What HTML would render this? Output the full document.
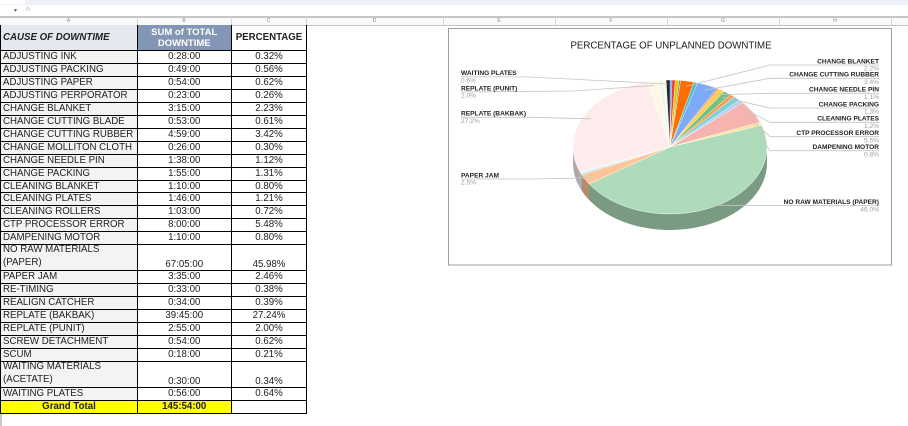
<!DOCTYPE html>
<html><head><meta charset="utf-8"><style>
body{margin:0;width:908px;height:426px;position:relative;overflow:hidden;background:#fff;font-family:"Liberation Sans",Arial,sans-serif;}
.abs{position:absolute;}
.r{position:absolute;left:0;width:307px;}
.r>div{position:absolute;top:0;height:100%;display:flex;align-items:center;font-size:9.7px;color:#222;white-space:nowrap;box-sizing:border-box;}
.a{left:1px;width:136px;background:#f3f3f3;padding-left:2px;}
.b{left:137px;width:94.5px;justify-content:center;}
.c{left:231.5px;width:75px;justify-content:center;}
.hl{position:absolute;left:0;width:307px;height:1px;background:#000;}
.vl{position:absolute;top:25px;width:1px;height:389px;background:#000;}
.cl{position:absolute;top:17px;height:8px;font-size:5px;color:#888;line-height:8px;text-align:center;}
.cs{position:absolute;top:17px;width:1px;height:8px;background:#d4d4d4;}
.dbl{flex-direction:column;align-items:flex-start!important;justify-content:center;line-height:12.95px;}
.bot{align-items:flex-end!important;padding-bottom:0.5px;}
</style></head><body>
<!-- top chrome -->
<div class="abs" style="left:0;top:0;width:908px;height:4.5px;background:#eef2f8;"></div>
<div class="abs" style="left:0;top:0;width:25px;height:4px;background:#fff;"></div>
<div class="abs" style="left:14px;top:7px;font-size:6px;color:#666;">▾</div>
<div class="abs" style="left:26px;top:7px;font-size:6px;color:#bbb;font-style:italic;">fx</div>
<div class="abs" style="left:0;top:16px;width:908px;height:1.5px;background:#c6c6c6;"></div>
<div class="abs" style="left:0;top:17.5px;width:908px;height:7.5px;background:#f8f9fa;"></div>
<div class="abs" style="left:0;top:25px;width:908px;height:1px;background:#c4c4c4;"></div>
<div class="cs" style="left:137px"></div><div class="cs" style="left:231px"></div><div class="cs" style="left:306px"></div>
<div class="cs" style="left:443px"></div><div class="cs" style="left:555px"></div><div class="cs" style="left:667px"></div>
<div class="cs" style="left:779px"></div><div class="cs" style="left:891px"></div>
<div class="cl" style="left:0;width:137px">A</div>
<div class="cl" style="left:137px;width:94px">B</div>
<div class="cl" style="left:231px;width:75px">C</div>
<div class="cl" style="left:306px;width:137px">D</div>
<div class="cl" style="left:443px;width:112px">E</div>
<div class="cl" style="left:555px;width:112px">F</div>
<div class="cl" style="left:667px;width:112px">G</div>
<div class="cl" style="left:779px;width:112px">H</div>

<!-- header -->
<div class="r" style="top:25px;height:25px;">
<div class="a" style="background:#e5e8ee;font-weight:bold;font-style:italic;">CAUSE OF DOWNTIME</div>
<div class="b" style="background:#8496b5;color:#fff;font-weight:bold;flex-direction:column;line-height:11px;font-size:9.5px;"><span>SUM of TOTAL</span><span>DOWNTIME</span></div>
<div class="c" style="font-weight:bold;">PERCENTAGE</div>
</div>

<div class="r" style="top:50px;height:13px;"><div class="a">ADJUSTING INK</div><div class="b">0:28:00</div><div class="c">0.32%</div></div>
<div class="r" style="top:63px;height:13px;"><div class="a">ADJUSTING PACKING</div><div class="b">0:49:00</div><div class="c">0.56%</div></div>
<div class="r" style="top:76px;height:13px;"><div class="a">ADJUSTING PAPER</div><div class="b">0:54:00</div><div class="c">0.62%</div></div>
<div class="r" style="top:89px;height:13px;"><div class="a">ADJUSTING PERPORATOR</div><div class="b">0:23:00</div><div class="c">0.26%</div></div>
<div class="r" style="top:102px;height:13px;"><div class="a">CHANGE BLANKET</div><div class="b">3:15:00</div><div class="c">2.23%</div></div>
<div class="r" style="top:115px;height:13px;"><div class="a">CHANGE CUTTING BLADE</div><div class="b">0:53:00</div><div class="c">0.61%</div></div>
<div class="r" style="top:128px;height:13px;"><div class="a">CHANGE CUTTING RUBBER</div><div class="b">4:59:00</div><div class="c">3.42%</div></div>
<div class="r" style="top:141px;height:13px;"><div class="a">CHANGE MOLLITON CLOTH</div><div class="b">0:26:00</div><div class="c">0.30%</div></div>
<div class="r" style="top:154px;height:13px;"><div class="a">CHANGE NEEDLE PIN</div><div class="b">1:38:00</div><div class="c">1.12%</div></div>
<div class="r" style="top:167px;height:13px;"><div class="a">CHANGE PACKING</div><div class="b">1:55:00</div><div class="c">1.31%</div></div>
<div class="r" style="top:180px;height:12px;"><div class="a">CLEANING BLANKET</div><div class="b">1:10:00</div><div class="c">0.80%</div></div>
<div class="r" style="top:192px;height:13px;"><div class="a">CLEANING PLATES</div><div class="b">1:46:00</div><div class="c">1.21%</div></div>
<div class="r" style="top:205px;height:13px;"><div class="a">CLEANING ROLLERS</div><div class="b">1:03:00</div><div class="c">0.72%</div></div>
<div class="r" style="top:218px;height:13px;"><div class="a">CTP PROCESSOR ERROR</div><div class="b">8:00:00</div><div class="c">5.48%</div></div>
<div class="r" style="top:231px;height:13px;"><div class="a">DAMPENING MOTOR</div><div class="b">1:10:00</div><div class="c">0.80%</div></div>
<div class="r" style="top:244px;height:26px;"><div class="a dbl"><span>NO RAW MATERIALS</span><span>(PAPER)</span></div><div class="b bot">67:05:00</div><div class="c bot">45.98%</div></div>
<div class="r" style="top:270px;height:13px;"><div class="a">PAPER JAM</div><div class="b">3:35:00</div><div class="c">2.46%</div></div>
<div class="r" style="top:283px;height:13px;"><div class="a">RE-TIMING</div><div class="b">0:33:00</div><div class="c">0.38%</div></div>
<div class="r" style="top:296px;height:13px;"><div class="a">REALIGN CATCHER</div><div class="b">0:34:00</div><div class="c">0.39%</div></div>
<div class="r" style="top:309px;height:13px;"><div class="a">REPLATE (BAKBAK)</div><div class="b">39:45:00</div><div class="c">27.24%</div></div>
<div class="r" style="top:322px;height:13px;"><div class="a">REPLATE (PUNIT)</div><div class="b">2:55:00</div><div class="c">2.00%</div></div>
<div class="r" style="top:335px;height:13px;"><div class="a">SCREW DETACHMENT</div><div class="b">0:54:00</div><div class="c">0.62%</div></div>
<div class="r" style="top:348px;height:13px;"><div class="a">SCUM</div><div class="b">0:18:00</div><div class="c">0.21%</div></div>
<div class="r" style="top:361px;height:26px;"><div class="a dbl"><span>WAITING MATERIALS</span><span>(ACETATE)</span></div><div class="b bot">0:30:00</div><div class="c bot">0.34%</div></div>
<div class="r" style="top:387px;height:13px;"><div class="a">WAITING PLATES</div><div class="b">0:56:00</div><div class="c">0.64%</div></div>
<div class="r" style="top:400px;height:13px;"><div class="a" style="background:#ffff00;justify-content:center;padding-left:0;font-weight:bold;">Grand Total</div><div class="b" style="background:#ffff00;font-weight:bold;">145:54:00</div><div class="c"></div></div>

<!-- grid lines -->
<div class="hl" style="top:50px"></div><div class="hl" style="top:63px"></div><div class="hl" style="top:76px"></div>
<div class="hl" style="top:89px"></div><div class="hl" style="top:102px"></div><div class="hl" style="top:115px"></div>
<div class="hl" style="top:128px"></div><div class="hl" style="top:141px"></div><div class="hl" style="top:154px"></div>
<div class="hl" style="top:167px"></div><div class="hl" style="top:180px"></div><div class="hl" style="top:192px"></div>
<div class="hl" style="top:205px"></div><div class="hl" style="top:218px"></div><div class="hl" style="top:231px"></div>
<div class="hl" style="top:244px"></div><div class="hl" style="top:270px"></div><div class="hl" style="top:283px"></div>
<div class="hl" style="top:296px"></div><div class="hl" style="top:309px"></div><div class="hl" style="top:322px"></div>
<div class="hl" style="top:335px"></div><div class="hl" style="top:348px"></div><div class="hl" style="top:361px"></div>
<div class="hl" style="top:387px"></div><div class="hl" style="top:400px"></div><div class="hl" style="top:413px"></div>
<div class="vl" style="left:0"></div><div class="vl" style="left:137px"></div><div class="vl" style="left:231px"></div><div class="vl" style="left:306px"></div>
<div class="abs" style="left:0;top:414px;width:1.5px;height:12px;background:#c8c8c8;"></div>

<!-- chart -->
<svg class="abs" style="left:0;top:0" width="908" height="426" viewBox="0 0 908 426" xmlns="http://www.w3.org/2000/svg">
<rect x="448.5" y="28.5" width="443" height="236.5" fill="#fff" stroke="#9e9e9e" stroke-width="1"/>
<text x="671" y="48.6" text-anchor="middle" font-family="Liberation Sans, Arial, sans-serif" font-size="9.7" fill="#1a1a1a">PERCENTAGE OF UNPLANNED DOWNTIME</text>
<!-- sides -->
<g stroke="none">
<path d="M767,147 A97,67 0 0 1 588.99,183.85 L588.99,199.85 A97,67 0 0 0 767,163 Z" fill="#7a9a82"/>
<path d="M588.99,183.85 A97,67 0 0 1 581.75,174.82 L581.75,190.82 A97,67 0 0 0 588.99,199.85 Z" fill="#b58b6a"/>
<path d="M581.75,174.82 A97,67 0 0 1 580.83,173.37 L580.83,189.37 A97,67 0 0 0 581.75,190.82 Z" fill="#7fa1a3"/>
<path d="M580.83,173.37 A97,67 0 0 1 579.92,171.85 L579.92,187.85 A97,67 0 0 0 580.83,189.37 Z" fill="#a6abb3"/>
<path d="M579.92,171.85 A97,67 0 0 1 573,147 L573,163 A97,67 0 0 0 579.92,187.85 Z" fill="#b2a6a5"/>
</g>
<!-- top face -->
<g stroke="#fff" stroke-width="0.4">
<path d="M670,147 L670,80 A97,67 0 0 1 671.95,80.01 Z" fill="#4285f4"/>
<path d="M670,147 L671.95,80.01 A97,67 0 0 1 675.36,80.10 Z" fill="#ea4335"/>
<path d="M670,147 L675.36,80.10 A97,67 0 0 1 679.11,80.30 Z" fill="#fbbc04"/>
<path d="M670,147 L679.11,80.30 A97,67 0 0 1 680.70,80.41 Z" fill="#34a853"/>
<path d="M670,147 L680.70,80.41 A97,67 0 0 1 694.05,82.09 Z" fill="#ff6d01"/>
<path d="M670,147 L694.05,82.09 A97,67 0 0 1 697.60,82.77 Z" fill="#46bdc6"/>
<path d="M670,147 L697.60,82.77 A97,67 0 0 1 716.77,88.30 Z" fill="#7baaf7"/>
<path d="M670,147 L716.77,88.30 A97,67 0 0 1 718.35,88.92 Z" fill="#f07b72"/>
<path d="M670,147 L718.35,88.92 A97,67 0 0 1 724.14,91.41 Z" fill="#fcd04f"/>
<path d="M670,147 L724.14,91.41 A97,67 0 0 1 730.59,94.68 Z" fill="#71c287"/>
<path d="M670,147 L730.59,94.68 A97,67 0 0 1 734.32,96.85 Z" fill="#ff994d"/>
<path d="M670,147 L734.32,96.85 A97,67 0 0 1 739.65,100.37 Z" fill="#7ed1d7"/>
<path d="M670,147 L739.65,100.37 A97,67 0 0 1 742.63,102.59 Z" fill="#b3cefb"/>
<path d="M670,147 L742.63,102.59 A97,67 0 0 1 760.08,122.15 Z" fill="#f7b4ae"/>
<path d="M670,147 L760.08,122.15 A97,67 0 0 1 761.77,125.30 Z" fill="#fde49b"/>
<path d="M670,147 L761.77,125.30 A97,67 0 0 1 588.99,183.85 Z" fill="#aedcba"/>
<path d="M670,147 L588.99,183.85 A97,67 0 0 1 581.75,174.82 Z" fill="#ffc599"/>
<path d="M670,147 L581.75,174.82 A97,67 0 0 1 580.83,173.37 Z" fill="#b5e5e8"/>
<path d="M670,147 L580.83,173.37 A97,67 0 0 1 579.92,171.85 Z" fill="#ecf3fe"/>
<path d="M670,147 L579.92,171.85 A97,67 0 0 1 647.04,81.90 Z" fill="#fdeceb"/>
<path d="M670,147 L647.04,81.90 A97,67 0 0 1 659.02,80.43 Z" fill="#fff8e6"/>
<path d="M670,147 L659.02,80.43 A97,67 0 0 1 662.77,80.19 Z" fill="#e7f5ea"/>
<path d="M670,147 L662.77,80.19 A97,67 0 0 1 664.02,80.13 Z" fill="#fff0e6"/>
<path d="M670,147 L664.02,80.13 A97,67 0 0 1 666.10,80.05 Z" fill="#ecf8f9"/>
<path d="M670,147 L666.10,80.05 A97,67 0 0 1 670,80 Z" fill="#222"/>
</g>
<!-- leader lines -->
<g fill="none" stroke="#c4c4c4" stroke-width="0.8">
<path d="M686,86.4 L770,65 L879,65"/>
<path d="M704.4,90.2 L770,78.3 L879,78.3"/>
<path d="M717.2,94.7 L770,93.3 L879,93.3"/>
<path d="M722.8,97.3 L770,108 L879,108"/>
<path d="M731.6,102.5 L770,122.3 L879,122.3"/>
<path d="M745.9,114.7 L770,136.7 L879,136.7"/>
<path d="M753.6,125.6 L770,150.7 L879,150.7"/>
<path d="M710,205.3 L879,205.7"/>
<path d="M461,76.7 L527,76.9 L667.5,84"/>
<path d="M461,92 L573,91 L654,85.5"/>
<path d="M461,117.3 L530,117.3 L590.7,118.8"/>
<path d="M461,179 L530,179 L591.9,177.8"/>
</g>
<!-- labels -->
<g font-family="Liberation Sans, Arial, sans-serif" font-size="6.6">
<g font-weight="bold" fill="#222" text-anchor="end">
<text x="879" y="63.3">CHANGE BLANKET</text>
<text x="879" y="76.6">CHANGE CUTTING RUBBER</text>
<text x="879" y="91.6">CHANGE NEEDLE PIN</text>
<text x="879" y="106.3">CHANGE PACKING</text>
<text x="879" y="120.6">CLEANING PLATES</text>
<text x="879" y="135">CTP PROCESSOR ERROR</text>
<text x="879" y="149">DAMPENING MOTOR</text>
<text x="879" y="204">NO RAW MATERIALS (PAPER)</text>
</g>
<g fill="#9e9e9e" text-anchor="end">
<text x="879" y="70.6">2.2%</text>
<text x="879" y="83.9">3.4%</text>
<text x="879" y="98.9">1.1%</text>
<text x="879" y="113.6">1.3%</text>
<text x="879" y="127.9">1.2%</text>
<text x="879" y="142.3">5.5%</text>
<text x="879" y="156.3">0.8%</text>
<text x="879" y="211.3">46.0%</text>
</g>
<g font-weight="bold" fill="#222">
<text x="461" y="75">WAITING PLATES</text>
<text x="461" y="90.3">REPLATE (PUNIT)</text>
<text x="461" y="115.6">REPLATE (BAKBAK)</text>
<text x="461" y="177.3">PAPER JAM</text>
</g>
<g fill="#9e9e9e">
<text x="461" y="82.3">0.6%</text>
<text x="461" y="97.6">2.0%</text>
<text x="461" y="122.9">27.2%</text>
<text x="461" y="184.6">2.5%</text>
</g>
</g>
</svg>
</body></html>
